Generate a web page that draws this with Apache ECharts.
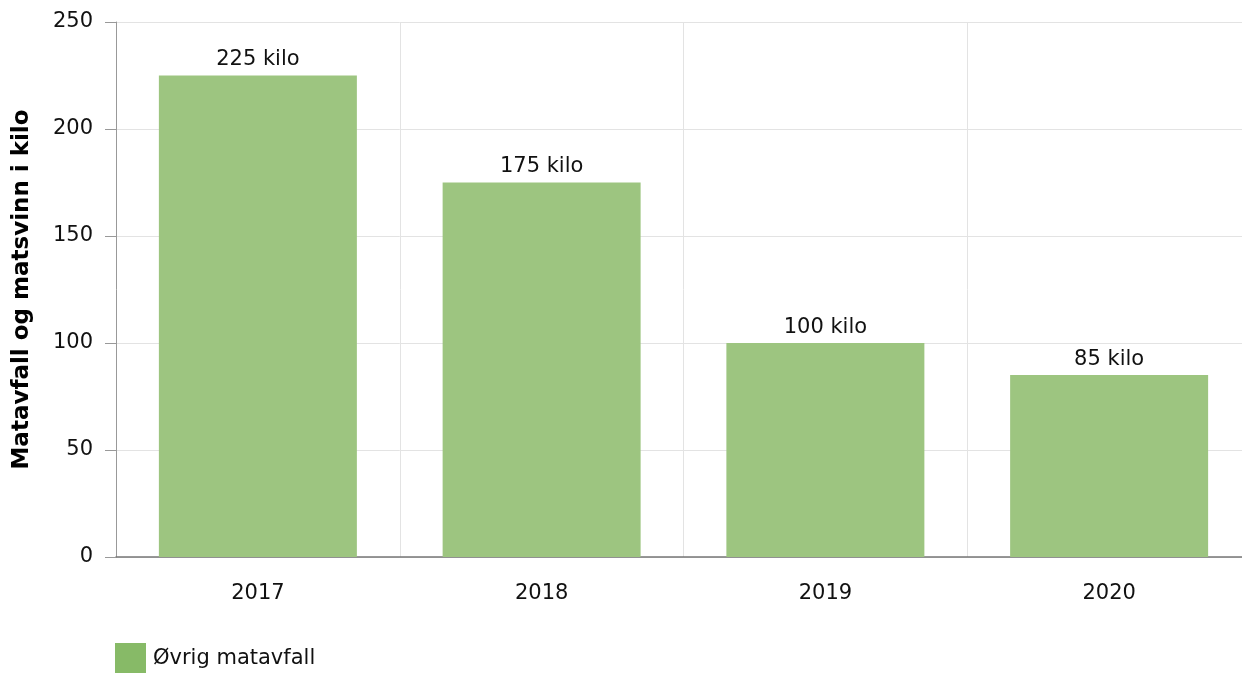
<!DOCTYPE html>
<html>
<head>
<meta charset="utf-8">
<script src="https://cdn.jsdelivr.net/npm/echarts@6/dist/echarts.min.js"></script>
<style>
  html, body { margin: 0; padding: 0; background: #fff; overflow: hidden; }
  /* chart is a bit wider than the window so the last column is cut off like the original */
  #chart { width: 1252px; height: 673px; }
</style>
</head>
<body>
<div id="chart"></div>
<script>
// data
const years = ['2017', '2018', '2019', '2020'];
const matavfall = [225, 175, 100, 85];
const seriesName = 'Øvrig matavfall';
const yTitle = 'Matavfall og matsvinn i kilo';

const chart = echarts.init(document.getElementById('chart'));
const font = 'DejaVu Sans, Verdana, sans-serif';

chart.setOption({
  animation: false,
  textStyle: { fontFamily: font },
  grid: { left: 116, top: 22, right: 1, bottom: 116, containLabel: false },
  legend: {
    left: 115, top: 643, padding: 0,
    itemWidth: 31, itemHeight: 31,
    icon: 'rect',
    textStyle: { fontSize: 21, color: '#111', fontFamily: font, padding: [0, 0, 0, 2] },
    data: [{ name: seriesName, itemStyle: { color: '#87ba67' } }]
  },
  xAxis: {
    type: 'category',
    data: years,
    axisLine: { lineStyle: { color: '#777', width: 1.5 } },
    axisTick: { alignWithLabel: true, length: 9, lineStyle: { color: '#999' } },
    axisLabel: { fontSize: 21, color: '#111', margin: 26, fontFamily: font },
    splitLine: { show: true, lineStyle: { color: '#e3e3e3' } }
  },
  yAxis: {
    type: 'value',
    min: 0, max: 250, interval: 50,
    name: yTitle,
    nameLocation: 'middle',
    nameGap: 82,
    nameTextStyle: { fontSize: 23, fontWeight: 'bold', color: '#000', fontFamily: font },
    axisLine: { show: true, lineStyle: { color: '#999' } },
    axisTick: { show: true, length: 11, lineStyle: { color: '#999' } },
    axisLabel: { fontSize: 21, color: '#111', margin: 23, fontFamily: font },
    splitLine: { lineStyle: { color: '#e3e3e3' } }
  },
  series: [{
    name: seriesName,
    type: 'bar',
    data: matavfall,
    barWidth: 198,
    itemStyle: { color: '#9dc580' },
    label: {
      show: true, position: 'top', distance: 5,
      fontSize: 21, color: '#111', fontFamily: font,
      formatter: p => p.value + ' kilo'
    }
  }]
});

window.addEventListener('resize', () => chart.resize());
</script>
</body>
</html>
